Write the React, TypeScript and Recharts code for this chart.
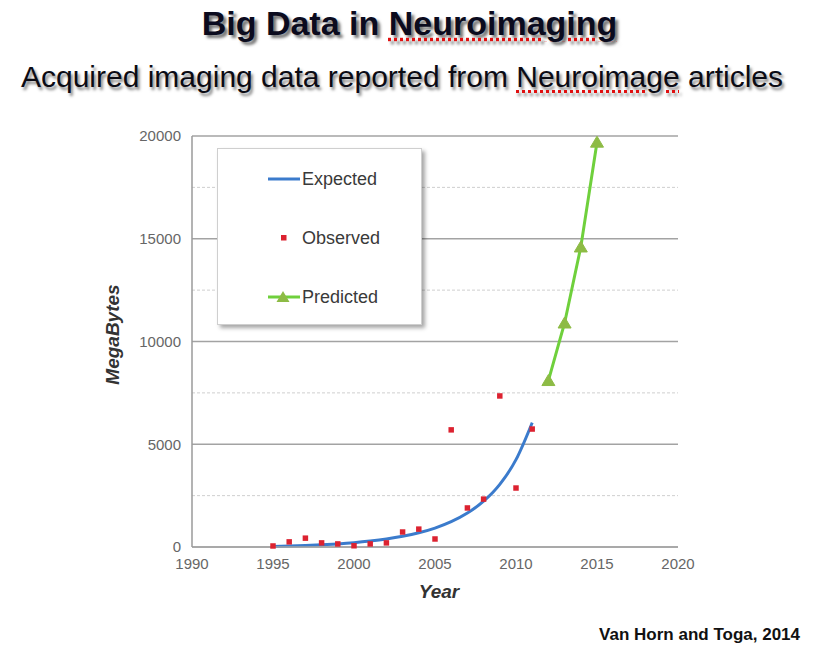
import React from 'react';
import {
  ComposedChart,
  Line,
  Scatter,
  XAxis,
  YAxis,
  ZAxis,
  CartesianGrid,
  ReferenceLine,
  Legend,
  Label,
} from 'recharts';

// ---- Data ----
const xTicks = [1990, 1995, 2000, 2005, 2010, 2015, 2020];
const yTicks = [0, 5000, 10000, 15000, 20000];
const minorGrid = [2500, 7500, 12500, 17500];

const expectedYears = [1995, 1996, 1997, 1998, 1999, 2000, 2001, 2002, 2003, 2004, 2005, 2006, 2007, 2008, 2009, 2010, 2011];
const expectedValues = [25, 45, 70, 105, 150, 210, 290, 390, 520, 690, 920, 1230, 1650, 2230, 3050, 4250, 6050];

const observedYears = [1995, 1996, 1997, 1998, 1999, 2000, 2001, 2002, 2003, 2004, 2005, 2006, 2007, 2008, 2009, 2010, 2011];
const observedValues = [50, 250, 430, 200, 150, 60, 150, 200, 730, 870, 390, 5700, 1900, 2330, 7350, 2870, 5740];

const predictedYears = [2012, 2013, 2014, 2015];
const predictedValues = [8100, 10900, 14600, 19700];

const expectedData = expectedYears.map((year, i) => ({ year, value: expectedValues[i] }));
const observedData = observedYears.map((year, i) => ({ year, value: observedValues[i] }));
const predictedData = predictedYears.map((year, i) => ({ year, value: predictedValues[i] }));

const FONT = '"Liberation Sans", Arial, Helvetica, sans-serif';
const BLUE = '#3b7bcc';
const RED = '#dc2230';
const GREEN_LINE = '#6fd03c';
const GREEN_MARK = '#8dbb45';

const Triangle = (props: any) => {
  const { cx, cy } = props;
  if (cx == null || cy == null) return null;
  return (
    <polygon
      points={`${cx},${cy - 6} ${cx + 6.5},${cy + 5} ${cx - 6.5},${cy + 5}`}
      fill={GREEN_MARK}
      stroke={GREEN_MARK}
      strokeWidth={1}
    />
  );
};

const LegendBox = () => (
  <div
    style={{
      width: 205,
      height: 177,
      background: '#fff',
      border: '1px solid #cfcfcf',
      boxShadow: '3px 3px 4px rgba(0,0,0,0.35)',
      boxSizing: 'border-box',
    }}
  >
    <svg width={205} height={177} style={{ display: 'block' }}>
      <line x1={50} y1={30} x2={82} y2={30} stroke={BLUE} strokeWidth={3} />
      <text x={84} y={30} dy="0.35em" fontSize={18} fill="#3a3a3a" fontFamily={FONT}>Expected</text>
      <rect x={63} y={86} width={5.5} height={5.5} fill={RED} />
      <text x={84} y={89} dy="0.35em" fontSize={18} fill="#3a3a3a" fontFamily={FONT}>Observed</text>
      <line x1={50} y1={148} x2={82} y2={148} stroke={GREEN_LINE} strokeWidth={3} />
      <polygon points="65,142 71.5,153 58.5,153" fill={GREEN_MARK} />
      <text x={84} y={148} dy="0.35em" fontSize={18} fill="#3a3a3a" fontFamily={FONT}>Predicted</text>
    </svg>
  </div>
);

export default function App() {
  return (
    <div
      style={{
        position: 'absolute',
        left: 0,
        top: 0,
        width: 819,
        height: 655,
        background: '#fff',
        fontFamily: FONT,
        overflow: 'hidden',
      }}
    >
      <div
        style={{
          position: 'absolute',
          left: 0,
          top: 6,
          width: 819,
          textAlign: 'center',
          fontSize: 34,
          lineHeight: '34px',
          fontWeight: 'bold',
          color: '#0b0b1e',
          textShadow: '3px 3px 3px rgba(0,0,0,0.55)',
        }}
      >
        Big Data in{' '}
        <span style={{ textDecoration: 'underline dotted #e01010', textUnderlineOffset: 3 }}>Neuroimaging</span>
      </div>
      <div
        style={{
          position: 'absolute',
          left: 0,
          top: 62,
          width: 804,
          textAlign: 'center',
          fontSize: 30,
          lineHeight: '30px',
          color: '#0b0b14',
          textShadow: '2px 3px 3px rgba(0,0,0,0.5)',
        }}
      >
        Acquired imaging data reported from{' '}
        <span style={{ textDecoration: 'underline dotted #e01010', textUnderlineOffset: 3 }}>Neuroimage</span> articles
      </div>

      <div style={{ position: 'absolute', left: 0, top: 0 }}>
        <ComposedChart
          width={819}
          height={655}
          margin={{ top: 136, right: 141, bottom: 78, left: 32 }}
        >
          <CartesianGrid horizontal vertical={false} stroke="#a3a3a3" strokeWidth={1.5} />
          {minorGrid.map((v) => (
            <ReferenceLine key={v} y={v} stroke="#cfcfcf" strokeDasharray="3 2" strokeWidth={1} />
          ))}
          <XAxis
            dataKey="year"
            type="number"
            domain={[1990, 2020]}
            ticks={xTicks}
            allowDataOverflow
            height={30}
            tickLine={false}
            tickMargin={5}
            axisLine={{ stroke: '#a3a3a3', strokeWidth: 1.5 }}
            tick={{ fill: '#666', fontSize: 15, fontFamily: FONT }}
          >
            <Label
              value="Year"
              position="bottom"
              offset={8}
              dx={4}
              style={{ fontSize: 19, fontWeight: 'bold', fontStyle: 'italic', fill: '#333', fontFamily: FONT }}
            />
          </XAxis>
          <YAxis
            type="number"
            domain={[0, 20000]}
            ticks={yTicks}
            width={160}
            tickLine={false}
            tickMargin={5}
            axisLine={{ stroke: '#9a9a9a', strokeWidth: 1.5 }}
            tick={{ fill: '#666', fontSize: 15, fontFamily: FONT }}
          >
            <Label
              value="MegaBytes"
              angle={-90}
              position="center"
              dy={-7}
              style={{ fontSize: 19, fontWeight: 'bold', fontStyle: 'italic', fill: '#333', fontFamily: FONT, textAnchor: 'middle' }}
            />
          </YAxis>
          <ZAxis type="number" range={[30, 30]} />
          <Line
            data={expectedData}
            dataKey="value"
            name="Expected"
            type="monotone"
            stroke={BLUE}
            strokeWidth={3}
            dot={false}
            activeDot={false}
            isAnimationActive={false}
          />
          <Scatter
            data={observedData}
            dataKey="value"
            name="Observed"
            fill={RED}
            shape="square"
            isAnimationActive={false}
          />
          <Line
            data={predictedData}
            dataKey="value"
            name="Predicted"
            type="linear"
            stroke={GREEN_LINE}
            strokeWidth={3}
            dot={<Triangle />}
            activeDot={false}
            isAnimationActive={false}
          />
          <Legend
            layout="horizontal"
            verticalAlign="middle"
            align="center"
            content={() => <LegendBox />}
            wrapperStyle={{ position: 'absolute', left: 217, top: 148, width: 205, height: 177 }}
          />
        </ComposedChart>
      </div>

      <div
        style={{
          position: 'absolute',
          left: 0,
          top: 626,
          width: 800,
          textAlign: 'right',
          fontSize: 17,
          lineHeight: '17px',
          fontWeight: 'bold',
          color: '#111',
        }}
      >
        Van Horn and Toga, 2014
      </div>
    </div>
  );
}
